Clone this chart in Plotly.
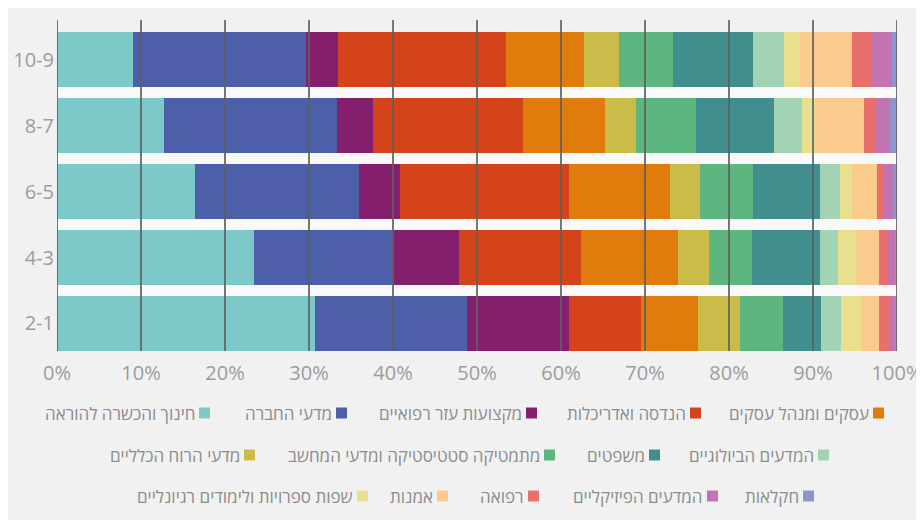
import plotly.graph_objects as go

# age groups (bottom to top)
groups = ['2-1', '4-3', '6-5', '8-7', '10-9']

fields = [
    'חינוך והכשרה להוראה',
    'מדעי החברה',
    'מקצועות עזר רפואיים',
    'הנדסה ואדריכלות',
    'עסקים ומנהל עסקים',
    'מדעי הרוח הכלליים',
    'מתמטיקה סטטיסטיקה ומדעי המחשב',
    'משפטים',
    'המדעים הביולוגיים',
    'שפות ספרויות ולימודים רגיונליים',
    'אמנות',
    'רפואה',
    'המדעים הפיזיקליים',
    'חקלאות',
]

colors = ['#7dc8c9', '#4c5fa8', '#841f6e', '#d3441a', '#e07c0b', '#cbbb48', '#5db67f',
          '#418e8e', '#a1d3b4', '#e8e08f', '#fbcb8d', '#e96f6d', '#c174b0', '#8c97cf']

# share (%) per field, in the order of groups
education = [30.7, 23.4, 16.4, 12.7, 9.0]
social = [18.1, 16.6, 19.6, 20.6, 20.6]
paramedical = [12.2, 7.9, 4.8, 4.3, 3.8]
engineering = [8.5, 14.5, 20.1, 17.9, 20.1]
business = [6.8, 11.5, 12.1, 9.7, 9.2]
humanities = [5.0, 3.7, 3.5, 3.7, 4.2]
math_cs = [5.1, 5.1, 6.4, 7.2, 6.4]
law = [4.6, 8.1, 7.9, 9.3, 9.6]
biology = [2.3, 2.2, 2.4, 3.3, 3.7]
languages = [2.4, 2.1, 1.4, 1.5, 1.8]
arts = [2.2, 2.8, 3.0, 5.9, 6.3]
medicine = [1.3, 0.9, 0.9, 1.4, 2.2]
physics = [0.6, 1.0, 1.2, 1.7, 2.5]
agriculture = [0.2, 0.2, 0.3, 0.8, 0.6]

series = [education, social, paramedical, engineering, business, humanities, math_cs,
          law, biology, languages, arts, medicine, physics, agriculture]

x_ticks = [0, 10, 20, 30, 40, 50, 60, 70, 80, 90, 100]
x_labels = [f'{v}%' for v in x_ticks]

# page body adds an 8px margin, so the figure is a bit smaller than the window
OFF = 8
W, H = 924 - OFF, 520 - OFF
L, R, T, B = 57 - OFF, 27, 20 - OFF, 169
BARGAP = 0.167


def px_x(p):
    # page pixel -> paper x
    return (p - OFF - L) / (W - L - R)


def px_y(p):
    # page pixel -> paper y
    return (H - B - (p - OFF)) / (H - T - B)


fig = go.Figure()
for name, vals, col in zip(fields, series, colors):
    fig.add_trace(go.Bar(y=groups, x=vals, name=name, orientation='h',
                         marker=dict(color=col, line=dict(width=0)),
                         hovertemplate='%{y}: %{x}%<extra>' + name + '</extra>'))

# lighter bands in the gaps between bars
half = (1 - BARGAP) / 2
shapes = [dict(type='rect', xref='x', yref='y', x0=0, x1=100, y0=i + half, y1=i + 1 - half,
               fillcolor='#f9f9f9', line=dict(width=0), layer='below')
          for i in range(len(groups) - 1)]

# vertical grid lines drawn over the bars
shapes += [dict(type='line', xref='x', yref='paper', x0=v, x1=v, y0=0, y1=1, layer='above',
                line=dict(color='rgba(95,95,95,0.85)', width=2)) for v in x_ticks]

# right-to-left legend rows: (square right edge px, row centre px)
legend_pos = [(210, 413), (347, 413), (537, 413), (701, 413), (884, 413),
              (255, 455), (555, 455), (660, 455), (829, 455),
              (368, 496), (448, 496), (539, 496), (718, 496), (814, 496)]

annotations = []
sq = 11
for name, col, (xr, yc) in zip(fields, colors, legend_pos):
    shapes.append(dict(type='rect', xref='paper', yref='paper',
                       xsizemode='pixel', ysizemode='pixel',
                       xanchor=px_x(xr), yanchor=px_y(yc),
                       x0=-sq, x1=0, y0=-sq / 2, y1=sq / 2,
                       fillcolor=col, line=dict(width=0)))
    annotations.append(dict(xref='paper', yref='paper', x=px_x(xr - sq - 2), y=px_y(yc),
                            xanchor='right', yanchor='middle', showarrow=False, text=name,
                            font=dict(size=17, color='#8c8c8c')))

fig.update_layout(
    barmode='stack',
    bargap=BARGAP,
    width=W, height=H,
    margin=dict(l=L, r=R, t=T, b=B, autoexpand=False),
    paper_bgcolor='#f1f1f1',
    plot_bgcolor='#f1f1f1',
    font=dict(family='Open Sans, DejaVu Sans, sans-serif', color='#9c9c9c'),
    showlegend=False,
    shapes=shapes,
    annotations=annotations,
)
fig.update_xaxes(range=[0, 100], tickvals=x_ticks, ticktext=x_labels, showgrid=False,
                 zeroline=False, showline=False, ticks='', tickfont=dict(size=20),
                 ticklabelstandoff=8)
fig.update_yaxes(type='category', range=[-0.417, 4.6], showgrid=False, zeroline=False,
                 showline=False, ticks='', tickfont=dict(size=20), ticklabelstandoff=2)

fig.write_html("out.html")
